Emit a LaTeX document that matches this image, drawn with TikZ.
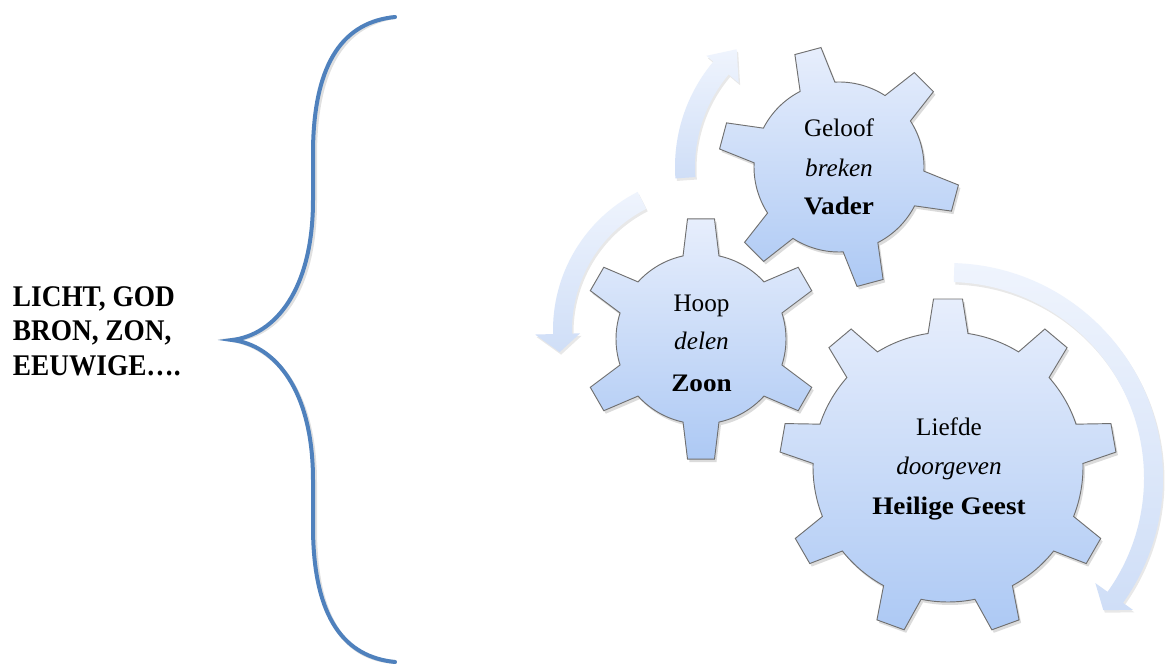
\documentclass[tikz,border=0pt]{standalone}
\usepackage{fontspec}
\setmainfont{Liberation Serif}[BoldFeatures={FakeStretch=1.08}]
\newfontfamily\leftfont{Liberation Serif}[BoldFeatures={FakeStretch=0.91}]
\usetikzlibrary{calc}
\definecolor{braceblue}{HTML}{4F81BD}
\definecolor{geartop}{HTML}{E7EEFC}
\definecolor{gearbot}{HTML}{ADC9F4}
\definecolor{arrtop}{HTML}{EFF4FD}
\definecolor{arrbot}{HTML}{CFDEF7}
\definecolor{gearline}{HTML}{707070}
% gear outline: #1 teeth, #2 first tooth angle, #3 tip r, #4 root r, #5 tip half-angle, #6 root half-angle
\newcommand\gearshape[6]{(#2-#6:#4) \foreach \k [evaluate=\k as \t using (#2)+(\k-1)*360/(#1), evaluate=\k as \tn using (#2)+\k*360/(#1)] in {1,...,#1} { -- (\t-#5:#3) -- (\t+#5:#3) -- (\t+#6:#4) arc[start angle=\t+#6, end angle=\tn-#6, radius=#4] } -- cycle}
% circular arrow: #1 tail angle, #2 head base angle, #3 tip angle, #4 outer r, #5 inner r, #6 head outer r, #7 head inner r, #8 tip r
\newcommand\circarrow[8]{(#1:#4) arc[start angle=#1, end angle=#2, radius=#4] -- (#2:#6) -- (#3:#8) -- (#2:#7) -- (#2:#5) arc[start angle=#2, end angle=#1, radius=#5] -- cycle}
\tikzset{
  gearfill/.style={draw=gearline, line width=0.7pt, line join=miter, top color=geartop, bottom color=gearbot},
  gearshadow/.style={fill=black, opacity=0.14, shift={(2,3)}},
  arrowfill/.style={top color=arrtop, bottom color=arrbot},
  arrowshadow/.style={fill=black, opacity=0.09, shift={(1.5,2.5)}},
  gtxt/.style={font=\fontsize{18.9}{22}\selectfont, inner sep=0pt, anchor=base},
  ltxt/.style={font=\leftfont\bfseries\fontsize{22.5}{26}\selectfont, inner sep=0pt, anchor=base west},
  bracestyle/.style={draw=braceblue, line width=3pt, line cap=round, line join=miter}
}
\begin{document}
\begin{tikzpicture}[x=0.75pt, y=-0.75pt]
\fill[white] (0,0) rectangle (1165,666);
\useasboundingbox (0,0) rectangle (1165,666);

% brace
\coordinate (btop) at (395,17);
\coordinate (btip) at (232,340);
\coordinate (bbot) at (395,662);
\draw[black, opacity=0.12, line width=3pt, line cap=round, shift={(2,2.5)}] (btop) .. controls (345,22) and (314,60) .. (313,150) -- (313,200) .. controls (313,290) and (275,335) .. (btip) .. controls (275,345) and (313,390) .. (313,480) -- (313,530) .. controls (314,619) and (345,657) .. (bbot);
\draw[bracestyle] (btop) .. controls (345,22) and (314,60) .. (313,150) -- (313,200) .. controls (313,290) and (275,335) .. (btip) .. controls (275,345) and (313,390) .. (313,480) -- (313,530) .. controls (314,619) and (345,657) .. (bbot);

% left text
\node[ltxt] (l1) at (12.7,306.7) {LICHT, GOD};
\node[ltxt] (l2) at (12.7,340.7) {BRON, ZON,};
\node[ltxt] (l3) at (12.7,376) {EEUWIGE….};

% arrows
\begin{scope}[shift={(839,167)}]
  \path[arrowshadow] \circarrow{176}{220}{229}{164}{144}{173}{131}{156};
  \path[arrowfill] \circarrow{176}{220}{229}{164}{144}{173}{131}{156};
\end{scope}
\begin{scope}[shift={(708,330)}]
  \path[arrowshadow] \circarrow{243}{178.5}{171.5}{155}{136}{173}{128}{150};
  \path[arrowfill] \circarrow{243}{178.5}{171.5}{155}{136}{173}{128}{150};
\end{scope}
\begin{scope}[shift={(948,478)}]
  \path[arrowshadow] \circarrow{-88.3}{35.5}{40.4}{215}{196}{227}{181}{204};
  \path[arrowfill] \circarrow{-88.3}{35.5}{40.4}{215}{196}{227}{181}{204};
\end{scope}

% gears
\begin{scope}[shift={(701,339)}]
  \path[gearshadow] \gearshape{6}{-90}{120.8}{85}{6.42}{12.2};
  \path[gearfill] \gearshape{6}{-90}{120.8}{85}{6.42}{12.2};
\end{scope}
\begin{scope}[shift={(839,167)}]
  \path[gearshadow] \gearshape{6}{-105}{120.8}{85}{6.42}{12.2};
  \path[gearfill] \gearshape{6}{-105}{120.8}{85}{6.42}{12.2};
\end{scope}
\begin{scope}[shift={(948,467)}]
  \path[gearshadow] \gearshape{9}{-90}{168.6}{135}{4.93}{8.5};
  \path[gearfill] \gearshape{9}{-90}{168.6}{135}{4.93}{8.5};
\end{scope}

% gear texts
\node[gtxt] (g1) at (839,136.7) {Geloof};
\node[gtxt] (g2) at (839,176.7) {\textit{breken}};
\node[gtxt] (g3) at (839,215) {\textbf{Vader}};
\node[gtxt] (h1) at (701.5,311.7) {Hoop};
\node[gtxt] (h2) at (701.5,350) {\textit{delen}};
\node[gtxt] (h3) at (701.5,391.7) {\textbf{Zoon}};
\node[gtxt] (f1) at (949,436) {Liefde};
\node[gtxt] (f2) at (949,475) {\textit{doorgeven}};
\node[gtxt] (f3) at (949,515) {\textbf{Heilige Geest}};
\end{tikzpicture}
\end{document}
